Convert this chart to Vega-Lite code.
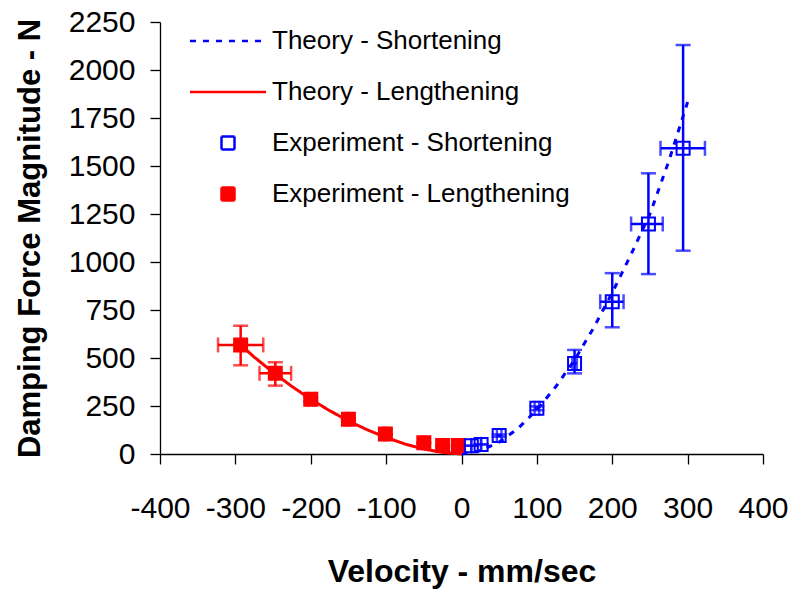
{
  "$schema": "https://vega.github.io/schema/vega-lite/v6.json",
  "width": 603,
  "height": 432,
  "autosize": "none",
  "padding": {"left": 160, "top": 22, "right": 30, "bottom": 135},
  "background": "white",
  "config": {
    "view": {"stroke": null},
    "font": "Liberation Sans",
    "axis": {
      "grid": false,
      "domainColor": "black",
      "tickColor": "black",
      "labelColor": "black",
      "titleColor": "black",
      "labelFont": "Liberation Sans",
      "titleFont": "Liberation Sans",
      "labelFontSize": 30,
      "titleFontSize": 32,
      "titleFontWeight": "bold",
      "tickSize": 10,
      "domainWidth": 1.3,
      "tickWidth": 1.3,
      "labelFlush": false,
      "labelOverlap": false,
      "labelExpr": "'' + datum.value"
    }
  },
  "datasets": {
    "theory": [
      {"series": "Theory - Shortening", "v": 0, "f": 0},
      {"series": "Theory - Shortening", "v": 25, "f": 17},
      {"series": "Theory - Shortening", "v": 50, "f": 62},
      {"series": "Theory - Shortening", "v": 75, "f": 133},
      {"series": "Theory - Shortening", "v": 100, "f": 230},
      {"series": "Theory - Shortening", "v": 125, "f": 350},
      {"series": "Theory - Shortening", "v": 150, "f": 490},
      {"series": "Theory - Shortening", "v": 175, "f": 655},
      {"series": "Theory - Shortening", "v": 200, "f": 840},
      {"series": "Theory - Shortening", "v": 225, "f": 1040},
      {"series": "Theory - Shortening", "v": 250, "f": 1250},
      {"series": "Theory - Shortening", "v": 275, "f": 1525},
      {"series": "Theory - Shortening", "v": 300, "f": 1833},
      {"series": "Theory - Lengthening", "v": -293, "f": 568},
      {"series": "Theory - Lengthening", "v": -275, "f": 505},
      {"series": "Theory - Lengthening", "v": -250, "f": 425},
      {"series": "Theory - Lengthening", "v": -225, "f": 352},
      {"series": "Theory - Lengthening", "v": -200, "f": 285},
      {"series": "Theory - Lengthening", "v": -175, "f": 226},
      {"series": "Theory - Lengthening", "v": -150, "f": 172},
      {"series": "Theory - Lengthening", "v": -125, "f": 126},
      {"series": "Theory - Lengthening", "v": -100, "f": 86},
      {"series": "Theory - Lengthening", "v": -75, "f": 52},
      {"series": "Theory - Lengthening", "v": -50, "f": 26},
      {"series": "Theory - Lengthening", "v": -25, "f": 8},
      {"series": "Theory - Lengthening", "v": 0, "f": 0}
    ],
    "exp": [
      {"series": "Experiment - Lengthening", "v": -293, "f": 568, "vlo": -323, "vhi": -263, "flo": 462, "fhi": 668},
      {"series": "Experiment - Lengthening", "v": -247, "f": 420, "vlo": -268, "vhi": -226, "flo": 356, "fhi": 478},
      {"series": "Experiment - Lengthening", "v": -200, "f": 285, "vlo": -205, "vhi": -195, "flo": 275, "fhi": 295},
      {"series": "Experiment - Lengthening", "v": -150, "f": 181, "vlo": -152, "vhi": -148, "flo": 178, "fhi": 184},
      {"series": "Experiment - Lengthening", "v": -101, "f": 104, "vlo": -103, "vhi": -99, "flo": 100, "fhi": 108},
      {"series": "Experiment - Lengthening", "v": -50, "f": 59, "vlo": -52, "vhi": -48, "flo": 56, "fhi": 62},
      {"series": "Experiment - Lengthening", "v": -25, "f": 44, "vlo": -25, "vhi": -25, "flo": 44, "fhi": 44},
      {"series": "Experiment - Lengthening", "v": -4, "f": 44, "vlo": -4, "vhi": -4, "flo": 44, "fhi": 44},
      {"series": "Experiment - Shortening", "v": 13, "f": 43, "vlo": 13, "vhi": 13, "flo": 43, "fhi": 43},
      {"series": "Experiment - Shortening", "v": 26, "f": 50, "vlo": 26, "vhi": 26, "flo": 50, "fhi": 50},
      {"series": "Experiment - Shortening", "v": 50, "f": 96, "vlo": 47, "vhi": 53, "flo": 90, "fhi": 102},
      {"series": "Experiment - Shortening", "v": 100, "f": 238, "vlo": 97, "vhi": 103, "flo": 228, "fhi": 248},
      {"series": "Experiment - Shortening", "v": 150, "f": 472, "vlo": 147, "vhi": 153, "flo": 420, "fhi": 542},
      {"series": "Experiment - Shortening", "v": 200, "f": 793, "vlo": 184, "vhi": 215, "flo": 660, "fhi": 942},
      {"series": "Experiment - Shortening", "v": 248, "f": 1198, "vlo": 225, "vhi": 267, "flo": 937, "fhi": 1462},
      {"series": "Experiment - Shortening", "v": 294, "f": 1592, "vlo": 264, "vhi": 323, "flo": 1059, "fhi": 2130}
    ]
  },
  "layer": [
    {
      "data": {"name": "theory"},
      "mark": {"type": "line", "strokeWidth": 3},
      "encoding": {
        "x": {
          "field": "v", "type": "quantitative", "title": "Velocity - mm/sec",
          "scale": {"domain": [-400, 400], "nice": false, "zero": false},
          "axis": {"values": [-400, -300, -200, -100, 0, 100, 200, 300, 400], "labelPadding": 29, "titleY": 102, "titleBaseline": "top"}
        },
        "y": {
          "field": "f", "type": "quantitative", "title": "Damping Force Magnitude - N",
          "scale": {"domain": [0, 2250], "nice": false},
          "axis": {"values": [0, 250, 500, 750, 1000, 1250, 1500, 1750, 2000, 2250], "labelPadding": 15, "titleX": -130, "titleBaseline": "middle", "titleFontSize": 31}
        },
        "color": {
          "field": "series", "type": "nominal",
          "scale": {
            "domain": ["Theory - Shortening", "Theory - Lengthening", "Experiment - Shortening", "Experiment - Lengthening"],
            "range": ["#0000FF", "#FF0000", "#0000FF", "#FF0000"]
          },
          "legend": {
            "title": null,
            "orient": "none",
            "legendX": 55,
            "legendY": 6,
            "padding": 0,
            "symbolType": "square",
            "symbolSize": 169,
            "symbolStrokeWidth": 2.5,
            "labelFont": "Liberation Sans",
            "labelFontSize": 26,
            "labelColor": "black",
            "labelOffset": 31,
            "labelLimit": 0,
            "rowPadding": 25,
            "encoding": {
              "symbols": {
                "shape": {"value": {"expr": "(indexof(datum.value,'Theory')==0) ? 'M-5.85,0H5.85' : 'M-5.85,0M5.85,0M-1,-1H1V1H-1Z'"}},
                "stroke": {"value": {"expr": "(indexof(datum.value,'Shortening')>0) ? '#0000FF' : '#FF0000'"}},
                "fillOpacity": {"value": {"expr": "(datum.value=='Experiment - Lengthening') ? 1 : 0"}},
                "strokeDash": {"value": {"expr": "(datum.value=='Theory - Shortening') ? [6,7] : [1,0]"}}
              }
            }
          }
        },
        "strokeDash": {
          "field": "series", "type": "nominal",
          "scale": {"domain": ["Theory - Shortening", "Theory - Lengthening"], "range": [[6, 7], [1, 0]]},
          "legend": null
        }
      }
    },
    {
      "data": {"name": "exp"},
      "mark": {"type": "errorbar", "ticks": true, "size": 15, "thickness": 2.5},
      "encoding": {
        "x": {"field": "vlo", "type": "quantitative", "title": "Velocity - mm/sec"},
        "x2": {"field": "vhi"},
        "y": {"field": "f", "type": "quantitative", "title": "Damping Force Magnitude - N"},
        "color": {"field": "series", "type": "nominal", "legend": null}
      }
    },
    {
      "data": {"name": "exp"},
      "mark": {"type": "errorbar", "ticks": true, "size": 15, "thickness": 2.5},
      "encoding": {
        "y": {"field": "flo", "type": "quantitative", "title": "Damping Force Magnitude - N"},
        "y2": {"field": "fhi"},
        "x": {"field": "v", "type": "quantitative", "title": "Velocity - mm/sec"},
        "color": {"field": "series", "type": "nominal", "legend": null}
      }
    },
    {
      "data": {"name": "exp"},
      "mark": {"type": "point", "shape": "square", "size": 169, "filled": false, "strokeWidth": 2, "opacity": 1},
      "encoding": {
        "x": {"field": "v", "type": "quantitative", "title": "Velocity - mm/sec"},
        "y": {"field": "f", "type": "quantitative", "title": "Damping Force Magnitude - N"},
        "color": {"field": "series", "type": "nominal", "legend": null},
        "fill": {
          "field": "series", "type": "nominal",
          "scale": {"domain": ["Experiment - Shortening", "Experiment - Lengthening"], "range": ["transparent", "#FF0000"]},
          "legend": null
        }
      }
    }
  ]
}
